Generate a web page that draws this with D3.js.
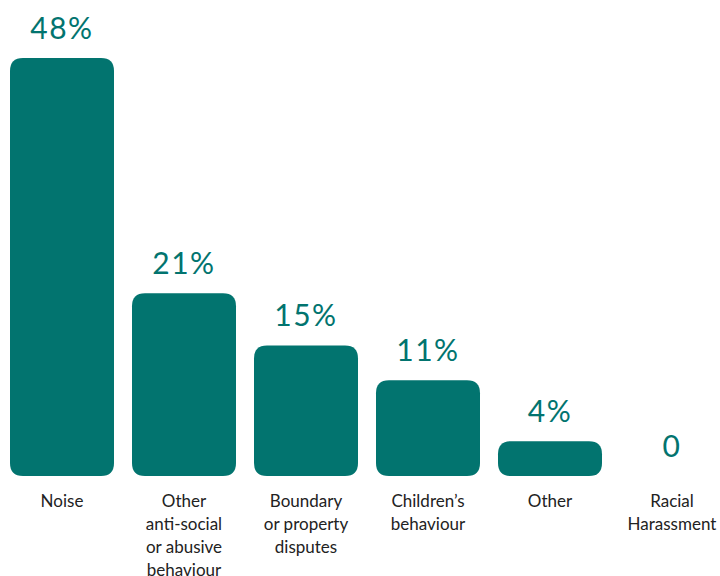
<!DOCTYPE html>
<html><head><meta charset="utf-8">
<script src="https://cdn.jsdelivr.net/npm/d3@7"></script>
<style>body{margin:0;background:#fff}svg{display:block}</style>
</head><body>
<svg id="c" width="720" height="576"></svg>
<script>
const categories = [["Noise"],["Other","anti-social","or abusive","behaviour"],["Boundary","or property","disputes"],["Children’s","behaviour"],["Other"],["Racial","Harassment"]];
const values = [48, 21, 15, 11, 4, 0];
const valueLabels = ["48%","21%","15%","11%","4%","0"];

const svg = d3.select("#c");
const teal = "#02746f";
const x = d3.scaleBand().domain(d3.range(values.length)).range([10, 724]).paddingInner(18/122).paddingOuter(0);
const y = d3.scaleLinear().domain([0, 48]).range([476, 58]);
const r = 13;

function barPath(x0, w, yTop, yBot) {
  const h = yBot - yTop;
  const rr = Math.min(r, h/2, w/2);
  return `M${x0},${yTop+rr}Q${x0},${yTop} ${x0+rr},${yTop}H${x0+w-rr}Q${x0+w},${yTop} ${x0+w},${yTop+rr}V${yBot-rr}Q${x0+w},${yBot} ${x0+w-rr},${yBot}H${x0+rr}Q${x0},${yBot} ${x0},${yBot-rr}Z`;
}

svg.selectAll("path.bar").data(values).enter().filter(d => d > 0)
  .append("path").attr("class","bar")
  .attr("fill", teal)
  .attr("d", (d,i) => barPath(x(i), x.bandwidth(), y(d), y(0)));

svg.selectAll("text.val").data(values).enter().append("text")
  .attr("class","val")
  .attr("x", (d,i) => x(i) + x.bandwidth()/2)
  .attr("y", d => y(d) - 19)
  .attr("text-anchor","middle")
  .attr("font-family","Lato, 'Open Sans', sans-serif")
  .attr("font-size", 30)
  .attr("letter-spacing", 1.5)
  .attr("fill", teal)
  .text((d,i) => valueLabels[i]);

const cat = svg.selectAll("text.cat").data(categories).enter().append("text")
  .attr("class","cat")
  .attr("text-anchor","middle")
  .attr("font-family","Lato, 'Open Sans', sans-serif")
  .attr("font-size", 17)
  .attr("fill", "#222");
cat.each(function(lines, i) {
  const t = d3.select(this);
  lines.forEach((ln, j) => {
    t.append("tspan").attr("x", x(i) + x.bandwidth()/2).attr("y", 507 + j*23).text(ln);
  });
});
</script>
</body></html>
